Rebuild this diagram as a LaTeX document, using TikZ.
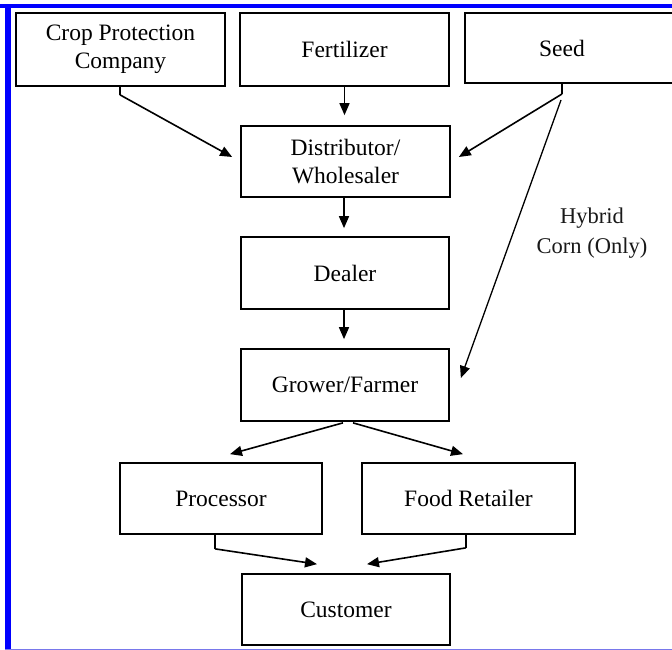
\documentclass[tikz,border=0pt]{standalone}
\usepackage{fontspec}
\setmainfont{Liberation Serif}
\usetikzlibrary{arrows.meta,calc}
\definecolor{frameblue}{RGB}{0,0,255}
\definecolor{lineblue}{RGB}{120,120,235}
\begin{document}
\begin{tikzpicture}[x=1pt,y=-1pt,
  box/.style={draw=black,line width=1.7pt,rectangle,inner sep=0pt,align=center,
    font=\fontsize{23.5}{28}\selectfont},
  stub/.style={line width=1.6pt},
  arr/.style={line width=1.6pt,-{Triangle[length=12pt,width=10pt]}},
  lbl/.style={font=\fontsize{22.5}{30}\selectfont,align=center,text=black!90}]
% page and frame
\useasboundingbox (0,0) rectangle (672,650);
\fill[white] (0,0) rectangle (672,650);
\fill[frameblue] (0,4) rectangle (672,8.5);
\fill[frameblue] (5,4) rectangle (11,650);
\fill[lineblue] (5,648.5) rectangle (672,650);

% suppliers
\node[box,minimum width=209pt,minimum height=73pt] (crop) at (120.5,49.5) {Crop Protection\\Company};
\node[box,minimum width=209pt,minimum height=73pt] (fert) at (344.5,49.5) {Fertilizer};
\node[box,line width=2pt,minimum width=215pt,minimum height=70pt,text width=205pt] (seed) at (572.5,48) {\hspace*{-21pt}Seed};
% chain
\node[box,minimum width=209pt,minimum height=71pt] (dist) at (345.5,161.5) {Distributor/\\Wholesaler};
\node[box,minimum width=208pt,minimum height=72pt] (deal) at (345,273) {Dealer};
\node[box,minimum width=208pt,minimum height=72pt] (grow) at (345,385) {Grower/Farmer};
\node[box,minimum width=202pt,minimum height=71pt] (proc) at (221,498.5) {Processor};
\node[box,minimum width=213pt,minimum height=71pt] (food) at (468.5,498.5) {Food Retailer};
\node[box,minimum width=208pt,minimum height=71pt] (cust) at (346,609.5) {Customer};

% label beside the seed-to-grower line
\node[lbl] (hyb) at (592,233) {Hybrid\\Corn (Only)};

% branch points and arrow ends
\coordinate (cj) at ($(crop.south)+(-0.5,8)$);
\coordinate (sj) at ($(seed.south)+(-10.5,10)$);
\coordinate (pj) at ($(proc.south)+(-6,14)$);
\coordinate (fj) at ($(food.south)+(-2.5,13)$);
\coordinate (ft) at ($(dist.north)+(0,-10)$);
\coordinate (ds) at ($(dist.south)+(-1.5,0)$);
\coordinate (dt) at ($(deal.north)+(0,-8)$);
\coordinate (gs) at ($(deal.south)+(-1,0)$);
\coordinate (gt) at ($(grow.north)+(0,-9)$);

% connectors
\draw[stub] ($(crop.south)+(-0.5,0)$) -- (cj);
\draw[arr] (cj) -- ($(dist.west)+(-8,-4.5)$);
\draw[arr] (fert.south) -- (fert.south |- ft);
\draw[stub] ($(seed.south)+(-10.5,0)$) -- (sj);
\draw[arr] (sj) -- ($(dist.east)+(8,-4.5)$);
\draw[arr,line width=1.3pt] ($(sj)+(-1,6)$) -- ($(grow.east)+(11,-7)$);
\draw[arr] (ds) -- (ds |- dt);
\draw[arr] (gs) -- (gs |- gt);
\draw[arr] ($(grow.south)+(-2,1)$) -- ($(proc.north)+(9,-8)$);
\draw[arr] ($(grow.south)+(8,1)$) -- ($(food.north)+(-5.5,-8)$);
\draw[stub] ($(proc.south)+(-6,0)$) -- (pj);
\draw[arr] (pj) -- ($(cust.north)+(-29,-9)$);
\draw[stub] ($(food.south)+(-2.5,0)$) -- (fj);
\draw[arr] (fj) -- ($(cust.north)+(21,-9)$);
\end{tikzpicture}
\end{document}
